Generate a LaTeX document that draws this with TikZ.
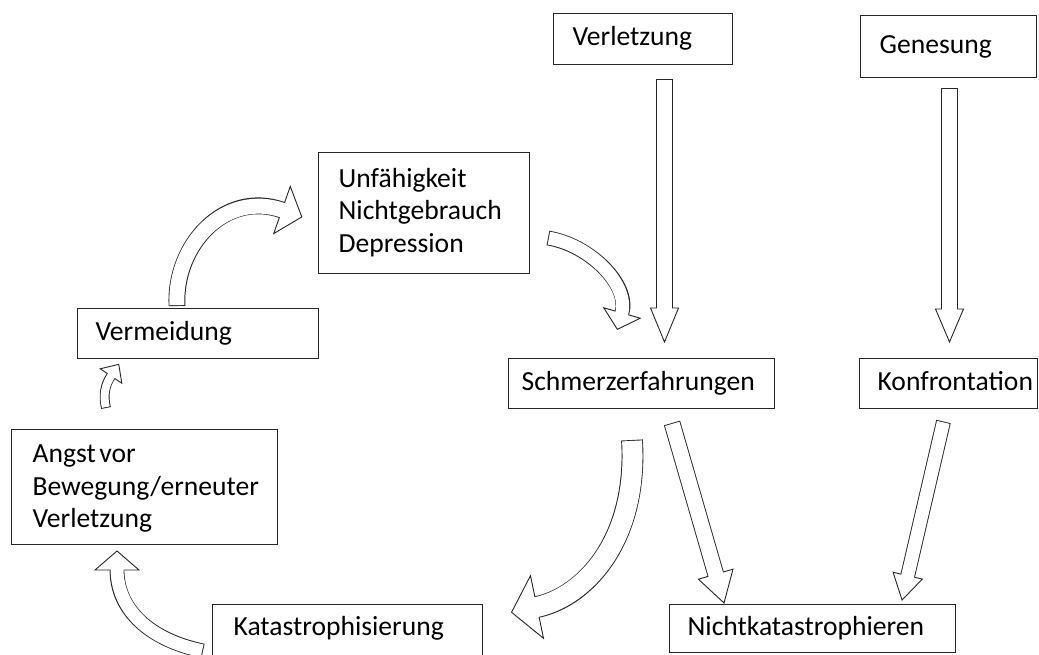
\documentclass[tikz,border=0pt]{standalone}
\usepackage{fontspec}
\setmainfont{Carlito}
\usetikzlibrary{decorations.markings}
% block arrow: #1 path, #2 shaft width, #3 head length, #4 head half width, #5 straight helper path giving the end direction
\newcommand{\barrow}[5]{%
  \draw[line width=#2pt+1.8pt, line cap=butt, draw=black!85] #1;
  \path[decorate, decoration={markings, mark=at position 1 with {%
      \draw[line width=0.9pt, draw=black!85, fill=white, line join=miter] (0,-#4pt) -- (#3pt,0) -- (0,#4pt) -- cycle;}}] #5;
  \draw[line width=#2pt, white, line cap=butt, shorten <=0.9pt, shorten >=-1.5pt] #1;
}
\newcommand{\pd}[1]{\hspace*{#1pt}\strut}
\begin{document}
\begin{tikzpicture}[x=1pt,y=-1pt,
  box/.style={draw=black!85, line width=1.2pt, rectangle, anchor=north west,
    inner xsep=0pt, inner ysep=0pt, align=left,
    font=\fontsize{27.6}{32.5}\selectfont}]
\useasboundingbox (0,0) rectangle (1039,655);

% boxes
\node[box, text width=179pt, minimum height=51pt] (ver)   at (553,13)  {\pd{19}Verletzung};
\node[box, text width=176pt, minimum height=62pt] (gen)   at (860,15)  {\pd{19}Genesung};
\node[box, text width=211pt, minimum height=121pt] (unf)  at (318,152) {\pd{20}Unfähigkeit\\\pd{20}Nichtgebrauch\\\pd{20}Depression};
\node[box, text width=241pt, minimum height=50pt] (vrm)   at (77,308)  {\pd{18}Vermeidung};
\node[box, text width=266pt, minimum height=115pt] (angst) at (11,429) {\pd{21}\rule{0pt}{26pt}Angst\hspace{3.5pt}vor\\\pd{21}Bewegung/erneuter\\\pd{21}Verletzung};
\node[box, text width=266pt, minimum height=50pt] (schm)  at (508,358) {\pd{13}Schmerzerfahrungen};
\node[box, text width=178pt, minimum height=50pt] (konf)  at (859,358) {\pd{18}Konfrontation};
\node[box, text width=270pt, minimum height=62pt] (kat)   at (212,604) {\pd{21}\rule[-22.75pt]{0pt}{22.75pt}Katastrophisierung};
\node[box, text width=286pt, minimum height=48pt] (nicht) at (669,604) {\pd{18}Nichtkatastrophieren};

% arrow end points
\coordinate (a1s) at (664.5,79);   \coordinate (a1e) at (664.5,308);
\coordinate (a2s) at (949.5,88);   \coordinate (a2e) at (949.5,309);
\coordinate (a3s) at (672,423);    \coordinate (a3e) at (715.7,574.2);
\coordinate (a4s) at (943.5,421.5);\coordinate (a4e) at (907.7,575.7);
\coordinate (a5s) at (632,440);    \coordinate (a5c) at (585,597);  \coordinate (a5e) at (537,607);
\coordinate (a6s) at (203,651);    \coordinate (a6c) at (117,610);  \coordinate (a6e) at (117,570);
\coordinate (a7s) at (106,408);    \coordinate (a7c) at (105,385);  \coordinate (a7e) at (111,376);
\coordinate (a8s) at (177,306);    \coordinate (a8c) at (225,190);  \coordinate (a8e) at (282,210);
\coordinate (a9s) at (548,238);    \coordinate (a9c) at (630,285);  \coordinate (a9e) at (622,313);

% straight arrows
\barrow{(a1s) -- (a1e)}{15}{34}{14}{(a1s) -- (a1e)}
\barrow{(a2s) -- (a2e)}{15}{33}{14}{(a2s) -- (a2e)}
\barrow{(a3s) -- (a3e)}{15}{30}{18}{(a3s) -- (a3e)}
\barrow{(a4s) -- (a4e)}{13}{25}{15}{(a4s) -- (a4e)}
% curved arrows
\barrow{(a5s) .. controls (638,540) and (a5c) .. (a5e)}{20}{26}{32}{(a5c) -- (a5e)}
\barrow{(a6s) .. controls (150,640) and (a6c) .. (a6e)}{13}{19}{22}{(a6c) -- (a6e)}
\barrow{(a7s) .. controls (103,395) and (a7c) .. (a7e)}{8}{14}{13}{(a7c) -- (a7e)}
\barrow{(a8s) .. controls (174,245) and (a8c) .. (a8e)}{15}{21}{25}{(a8c) -- (a8e)}
\barrow{(a9s) .. controls (590,245) and (a9c) .. (a9e)}{13}{17}{19}{(a9c) -- (a9e)}
\end{tikzpicture}
\end{document}
